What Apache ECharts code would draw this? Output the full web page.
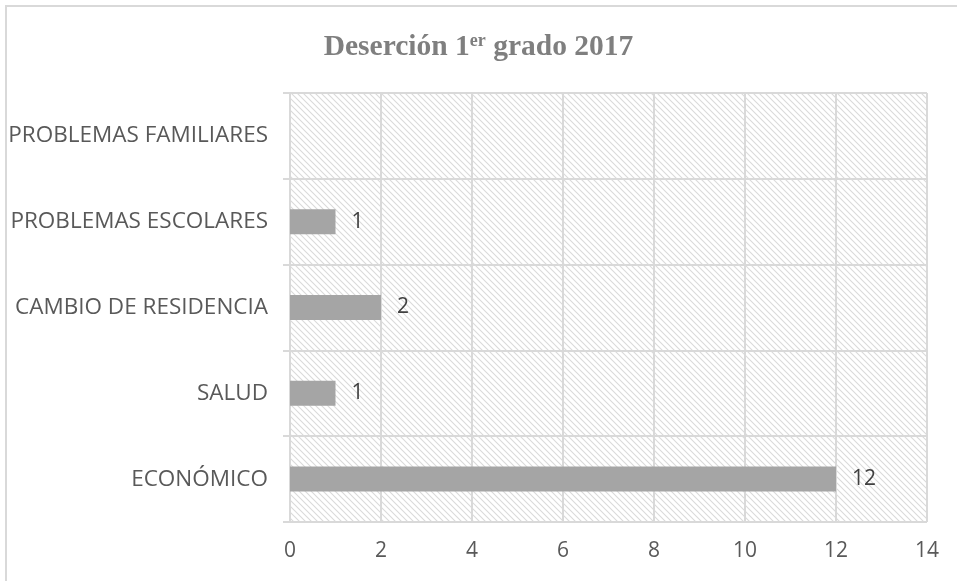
<!DOCTYPE html>
<html><head><meta charset="utf-8">
<script src="https://cdn.jsdelivr.net/npm/echarts@6/dist/echarts.min.js"></script>
<style>html,body{margin:0;padding:0;background:#fff}#c{width:957px;height:581px}</style>
</head><body><div id="c"></div>
<script>
const categories = ['ECONÓMICO', 'SALUD', 'CAMBIO DE RESIDENCIA', 'PROBLEMAS ESCOLARES', 'PROBLEMAS FAMILIARES'];
const values = [12, 1, 2, 1, null];
const xTicks = [0, 2, 4, 6, 8, 10, 12, 14];

const pc = document.createElement('canvas');
pc.width = 6; pc.height = 6;
const g = pc.getContext('2d');
g.fillStyle = '#ffffff'; g.fillRect(0,0,6,6);
g.strokeStyle = '#dadada'; g.lineWidth = 1.1;
g.beginPath();
g.moveTo(-1,-1); g.lineTo(7,7);
g.moveTo(-1,5); g.lineTo(1,7);
g.moveTo(5,-1); g.lineTo(7,1);
g.stroke();

const chart = echarts.init(document.getElementById('c'));
chart.setOption({
  animation: false,
  title: {
    text: 'Deserción 1{sup|er} grado 2017',
    left: 'center', top: 27,
    textStyle: {
      fontFamily: 'Liberation Serif', fontWeight: 'bold', fontSize: 29.5, color: '#7f7f7f',
      rich: { sup: { fontFamily: 'Liberation Serif', fontWeight: 'bold', fontSize: 18, color: '#7f7f7f', verticalAlign: 'top', padding: [0,0,10,0] } }
    }
  },
  graphic: [{ type: 'rect', shape: { x: 6, y: 6, width: 1000, height: 1000 }, style: { fill: 'none', stroke: '#d9d9d9', lineWidth: 2 }, silent: true }],
  grid: { left: 290, right: 30, top: 93, bottom: 59, show: true, backgroundColor: { image: pc, repeat: 'repeat' }, borderWidth: 0 },
  xAxis: {
    type: 'value', min: 0, max: 14, interval: 2,
    axisLine: { show: false }, axisTick: { show: false },
    splitLine: { show: true, lineStyle: { color: '#d9d9d9', width: 2 } },
    axisLabel: { margin: 19, fontFamily: 'Open Sans', fontSize: 21, color: '#595959', formatter: v => xTicks.includes(v) ? String(v) : '' }
  },
  yAxis: {
    type: 'category', data: categories,
    axisLine: { show: true, lineStyle: { color: '#d9d9d9', width: 2 } },
    axisTick: { show: true, length: 7, lineStyle: { color: '#d9d9d9', width: 2 } },
    splitLine: { show: true, lineStyle: { color: '#d9d9d9', width: 2 } },
    axisLabel: { margin: 22, fontFamily: 'Open Sans', fontSize: 22.5, color: '#595959' }
  },
  series: [{
    type: 'bar', data: values, barWidth: 25,
    itemStyle: { color: '#a5a5a5' },
    label: { show: true, position: 'right', distance: 16, fontFamily: 'Open Sans', fontSize: 21, color: '#404040' }
  }]
});
</script></body></html>
